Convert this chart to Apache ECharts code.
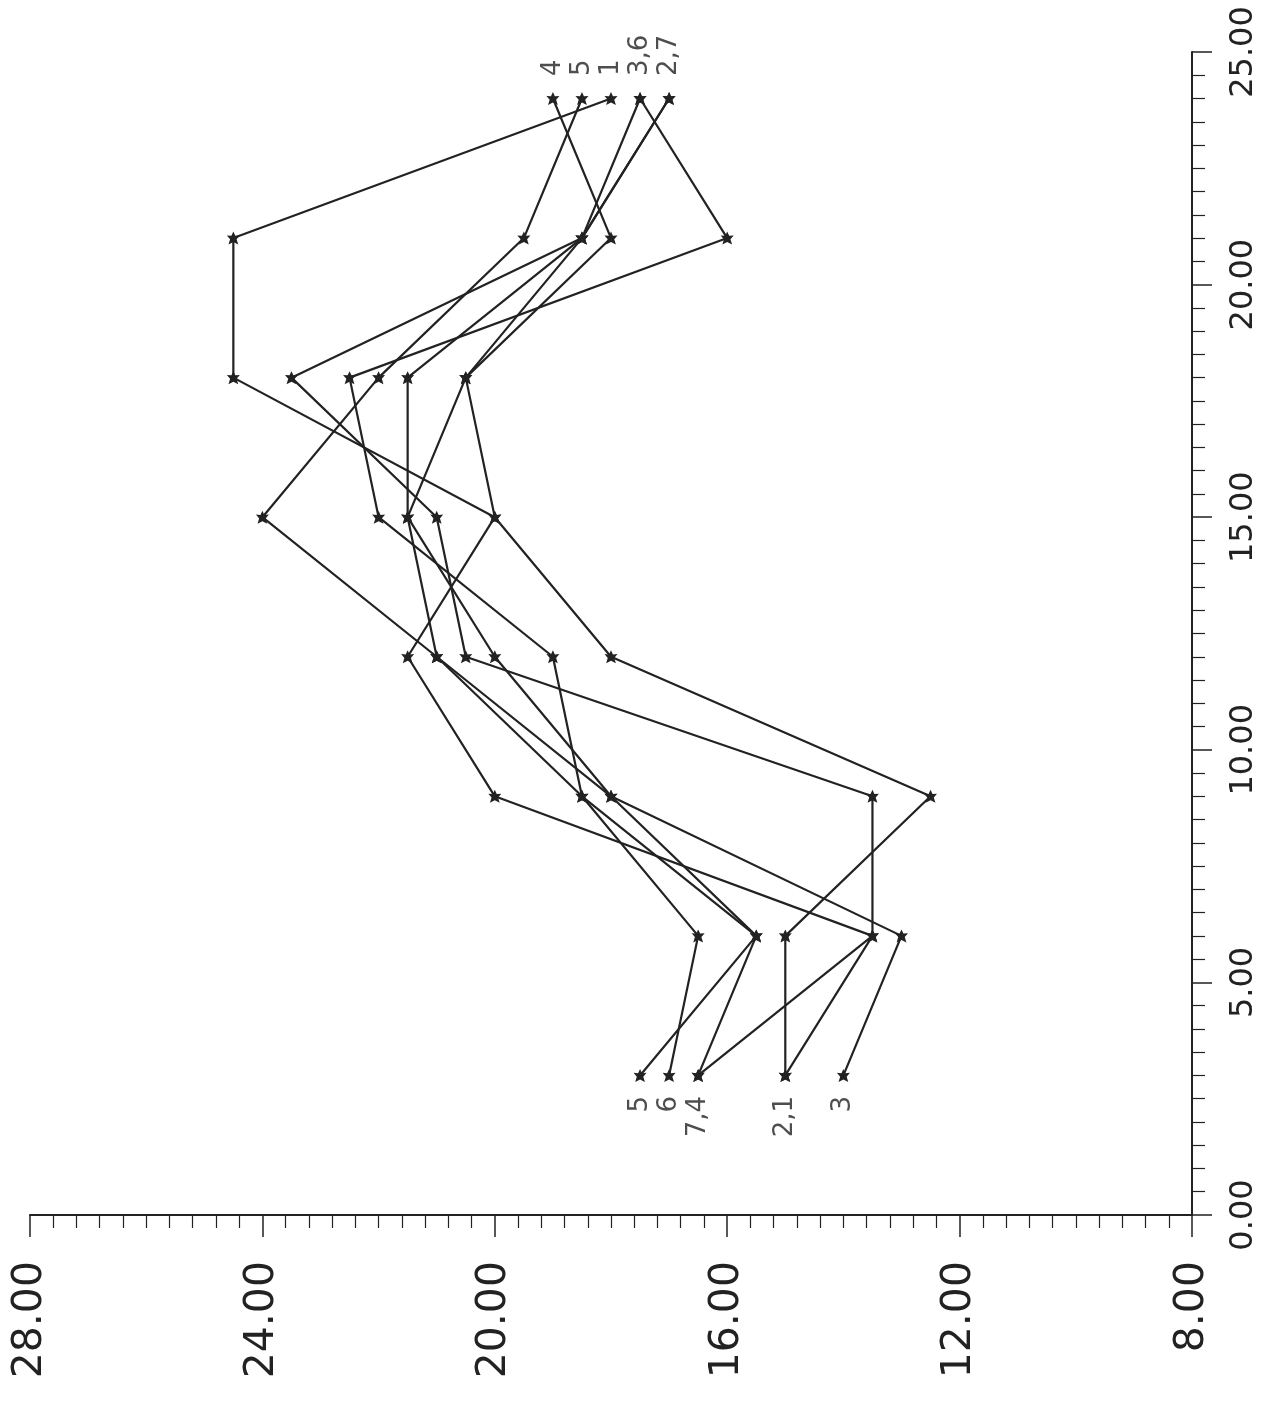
<!DOCTYPE html>
<html>
<head>
<meta charset="utf-8">
<script src="https://cdn.jsdelivr.net/npm/echarts@6/dist/echarts.min.js"></script>
<style>
html,body{margin:0;padding:0;background:#fff;}
#chart{width:1274px;height:1407px;}
</style>
</head>
<body>
<div id="chart"></div>
<script>
// time points (vertical axis, right)
var times = [3, 6, 9, 12, 15, 18, 21, 24];
// values (horizontal axis, bottom, reversed)
var s1 = [15, 15, 12.5, 18, 20, 24.5, 24.5, 18];
var s2 = [15, 13.5, 13.5, 20.5, 21, 23.5, 18.5, 17];
var s3 = [14, 13, 18, 21, 21.5, 21.5, 18.5, 17.5];
var s4 = [16.5, 13.5, 20, 21.5, 20, 20.5, 18, 19];
var s5 = [17.5, 15.5, 18.5, 21, 24, 22, 19.5, 18.5];
var s6 = [17, 16.5, 18.5, 19, 22, 22.5, 16, 17.5];
var s7 = [16.5, 15.5, 18, 20, 21.5, 20.5, 18.5, 17];
var seriesNames = ['1', '2', '3', '4', '5', '6', '7'];
var allSeries = [s1, s2, s3, s4, s5, s6, s7];

// end labels
var startLabels = ['5', '6', '7,4', '2,1', '3'];
var startVals = [17.5, 17, 16.5, 15, 14];
var endLabels = ['4', '5', '1', '3,6', '2,7'];
var endVals = [19, 18.5, 18, 17.5, 17];

var xTicks = [8, 12, 16, 20, 24, 28];
var yTicks = [0, 5, 10, 15, 20, 25];

var ink = '#222';
var star = 'path://M0,-10 L3,-4 10,-4.5 5,1 7.5,8.5 0,5 -7.5,8.5 -5,1 -10,-4.5 -3,-4Z';

var series = allSeries.map(function (s, k) {
  return {
    name: seriesNames[k],
    type: 'line',
    data: times.map(function (t, i) { return [s[i], t]; }),
    symbol: star,
    symbolSize: 13,
    showAllSymbol: true,
    lineStyle: { color: ink, width: 2.2 },
    itemStyle: { color: ink },
    z: 3
  };
});

series.push({
  type: 'scatter',
  data: startVals.map(function (v, i) { return { value: [v, times[0]], name: startLabels[i] }; }),
  symbolSize: 1,
  itemStyle: { color: 'rgba(0,0,0,0)' },
  label: {
    show: true, formatter: '{b}', position: 'bottom', distance: 20,
    rotate: 90, align: 'right', verticalAlign: 'middle',
    fontSize: 26, fontFamily: 'DejaVu Sans', color: ink
  }
});
series.push({
  type: 'scatter',
  data: endVals.map(function (v, i) { return { value: [v, times[times.length - 1]], name: endLabels[i] }; }),
  symbolSize: 1,
  itemStyle: { color: 'rgba(0,0,0,0)' },
  label: {
    show: true, formatter: '{b}', position: 'top', distance: 22,
    rotate: 90, align: 'left', verticalAlign: 'middle',
    fontSize: 26, fontFamily: 'DejaVu Sans', color: ink
  }
});

var chart = echarts.init(document.getElementById('chart'), null, { renderer: 'canvas' });
chart.setOption({
  animation: false,
  backgroundColor: '#fff',
  grid: { left: 30, right: 82, top: 52, bottom: 192, containLabel: false },
  xAxis: {
    type: 'value', min: xTicks[0], max: xTicks[xTicks.length - 1], interval: 4,
    inverse: true, position: 'bottom',
    axisLine: { show: true, lineStyle: { color: ink, width: 2 } },
    axisTick: { show: true, length: 22, lineStyle: { color: ink, width: 1.5 } },
    minorTick: { show: true, splitNumber: 10, length: 13, lineStyle: { color: ink, width: 1.2 } },
    splitLine: { show: false },
    axisLabel: {
      rotate: 90, margin: 46, fontSize: 41, fontFamily: 'DejaVu Sans', color: ink,
      formatter: function (v) { return v.toFixed(2); }
    }
  },
  yAxis: {
    type: 'value', min: yTicks[0], max: yTicks[yTicks.length - 1], interval: 5,
    position: 'right',
    axisLine: { show: true, lineStyle: { color: ink, width: 2 } },
    axisTick: { show: true, length: 20, lineStyle: { color: ink, width: 1.5 } },
    minorTick: { show: true, splitNumber: 10, length: 13, lineStyle: { color: ink, width: 1.2 } },
    splitLine: { show: false },
    axisLabel: {
      rotate: 90, margin: 36, fontSize: 32, fontFamily: 'DejaVu Sans', color: ink,
      formatter: function (v) { return v.toFixed(2); }
    }
  },
  series: series
});
</script>
</body>
</html>
